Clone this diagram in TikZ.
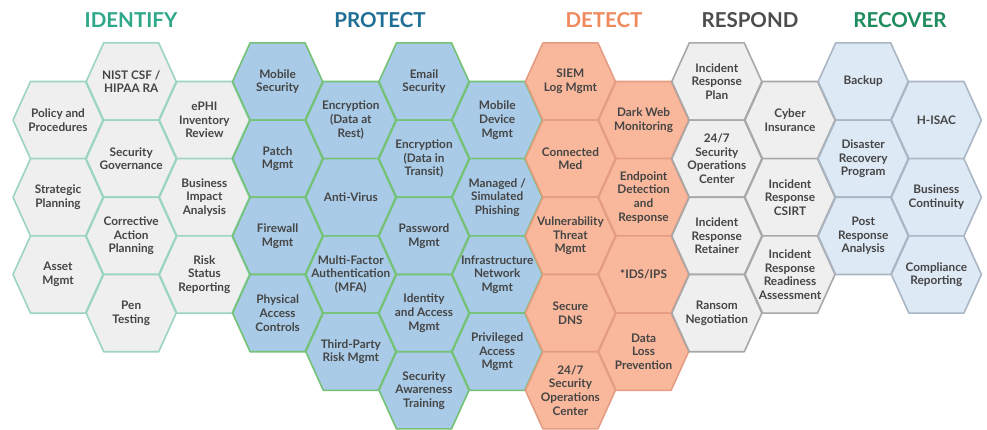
\documentclass[tikz,border=0pt]{standalone}
\usepackage{fontspec}
\setmainfont{Lato}
\definecolor{idfill}{HTML}{EFEFEF}
\definecolor{idline}{HTML}{9CD5BF}
\definecolor{prfill}{HTML}{A9CBE7}
\definecolor{prline}{HTML}{74C275}
\definecolor{defill}{HTML}{F9B89C}
\definecolor{deline}{HTML}{E49C82}
\definecolor{rsfill}{HTML}{EFEFEF}
\definecolor{rsline}{HTML}{A8A8A8}
\definecolor{rcfill}{HTML}{DDE9F5}
\definecolor{rcline}{HTML}{AAB6C3}
\definecolor{txtc}{HTML}{454545}
\definecolor{hid}{HTML}{2FA889}
\definecolor{hpr}{HTML}{1F6E96}
\definecolor{hde}{HTML}{F08A5D}
\definecolor{hrs}{HTML}{4D4D4D}
\definecolor{hrc}{HTML}{1E8C5E}
\tikzset{
  hexline/.style={line width=1.6pt, line join=round},
  idhex/.style={hexline, fill=idfill, draw=idline},
  prhex/.style={hexline, fill=prfill, draw=prline},
  dehex/.style={hexline, fill=defill, draw=deline},
  rshex/.style={hexline, fill=rsfill, draw=rsline},
  rchex/.style={hexline, fill=rcfill, draw=rcline},
  celltext/.style={text=txtc, font=\bfseries\fontsize{11.8}{13.6}\selectfont, align=center, inner sep=0pt},
  head/.style={font=\bfseries\fontsize{20.5}{24}\selectfont, inner sep=0pt},
}
\newcommand\hexcell[5]{%
  \begin{scope}[shift={(#2,#3)}]
    \path[#4] (-45,0) -- (-27.5,-38.6) -- (27.5,-38.6) -- (45,0) -- (27.5,38.6) -- (-27.5,38.6) -- cycle;
  \end{scope}
  \node[celltext] (#1) at (#2,#3) {#5};%
}
\begin{document}
\begin{tikzpicture}[x=1pt,y=-1pt]
\useasboundingbox (0,0) rectangle (987,430);
\fill[white] (0,0) rectangle (987,430);
% headers
\node[head, text=hid] (hidentify) at (131,20) {IDENTIFY};
\node[head, text=hpr] (hprotect) at (380,20) {PROTECT};
\node[head, text=hde] (hdetect) at (604,20) {DETECT};
\node[head, text=hrs] (hrespond) at (750,20) {RESPOND};
\node[head, text=hrc] (hrecover) at (900,20) {RECOVER};
% IDENTIFY
\hexcell{c0a}{58}{120.1}{idhex}{Policy and\\Procedures}
\hexcell{c0b}{58}{197.3}{idhex}{Strategic\\Planning}
\hexcell{c0c}{58}{274.5}{idhex}{Asset\\Mgmt}
\hexcell{c1a}{131.2}{81.5}{idhex}{NIST CSF /\\HIPAA RA}
\hexcell{c1b}{131.2}{158.7}{idhex}{Security\\Governance}
\hexcell{c1c}{131.2}{235.9}{idhex}{Corrective\\Action\\Planning}
\hexcell{c1d}{131.2}{313.1}{idhex}{Pen\\Testing}
\hexcell{c2a}{204.4}{120.1}{idhex}{ePHI\\Inventory\\Review}
\hexcell{c2b}{204.4}{197.3}{idhex}{Business\\Impact\\Analysis}
\hexcell{c2c}{204.4}{274.5}{idhex}{Risk\\Status\\Reporting}
% PROTECT
\hexcell{c3a}{277.6}{81.5}{prhex}{Mobile\\Security}
\hexcell{c3b}{277.6}{158.7}{prhex}{Patch\\Mgmt}
\hexcell{c3c}{277.6}{235.9}{prhex}{Firewall\\Mgmt}
\hexcell{c3d}{277.6}{313.1}{prhex}{Physical\\Access\\Controls}
\hexcell{c4a}{350.8}{120.1}{prhex}{Encryption\\(Data at\\Rest)}
\hexcell{c4b}{350.8}{197.3}{prhex}{Anti-Virus}
\hexcell{c4c}{350.8}{274.5}{prhex}{Multi-Factor\\Authentication\\(MFA)}
\hexcell{c4d}{350.8}{351.7}{prhex}{Third-Party\\Risk Mgmt}
\hexcell{c5a}{424}{81.5}{prhex}{Email\\Security}
\hexcell{c5b}{424}{158.7}{prhex}{Encryption\\(Data in\\Transit)}
\hexcell{c5c}{424}{235.9}{prhex}{Password\\Mgmt}
\hexcell{c5d}{424}{313.1}{prhex}{Identity\\and Access\\Mgmt}
\hexcell{c5e}{424}{390.3}{prhex}{Security\\Awareness\\Training}
\hexcell{c6a}{497.2}{120.1}{prhex}{Mobile\\Device\\Mgmt}
\hexcell{c6b}{497.2}{197.3}{prhex}{Managed /\\Simulated\\Phishing}
\hexcell{c6c}{497.2}{274.5}{prhex}{Infrastructure\\Network\\Mgmt}
\hexcell{c6d}{497.2}{351.7}{prhex}{Privileged\\Access\\Mgmt}
% DETECT
\hexcell{c7a}{570.4}{81.5}{dehex}{SIEM\\Log Mgmt}
\hexcell{c7b}{570.4}{158.7}{dehex}{Connected\\Med}
\hexcell{c7c}{570.4}{235.9}{dehex}{Vulnerability\\Threat\\Mgmt}
\hexcell{c7d}{570.4}{313.1}{dehex}{Secure\\DNS}
\hexcell{c7e}{570.4}{390.3}{dehex}{24/7\\Security\\Operations\\Center}
\hexcell{c8a}{643.6}{120.1}{dehex}{Dark Web\\Monitoring}
\hexcell{c8b}{643.6}{197.3}{dehex}{Endpoint\\Detection\\and\\Response}
\hexcell{c8c}{643.6}{274.5}{dehex}{*IDS/IPS}
\hexcell{c8d}{643.6}{351.7}{dehex}{Data\\Loss\\Prevention}
% RESPOND
\hexcell{c9a}{716.8}{81.5}{rshex}{Incident\\Response\\Plan}
\hexcell{c9b}{716.8}{158.7}{rshex}{24/7\\Security\\Operations\\Center}
\hexcell{c9c}{716.8}{235.9}{rshex}{Incident\\Response\\Retainer}
\hexcell{c9d}{716.8}{313.1}{rshex}{Ransom\\Negotiation}
\hexcell{c10a}{790}{120.1}{rshex}{Cyber\\Insurance}
\hexcell{c10b}{790}{197.3}{rshex}{Incident\\Response\\CSIRT}
\hexcell{c10c}{790}{274.5}{rshex}{Incident\\Response\\Readiness\\Assessment}
% RECOVER
\hexcell{c11a}{863.2}{81.5}{rchex}{Backup}
\hexcell{c11b}{863.2}{158.7}{rchex}{Disaster\\Recovery\\Program}
\hexcell{c11c}{863.2}{235.9}{rchex}{Post\\Response\\Analysis}
\hexcell{c12a}{936.4}{120.1}{rchex}{H-ISAC}
\hexcell{c12b}{936.4}{197.3}{rchex}{Business\\Continuity}
\hexcell{c12c}{936.4}{274.5}{rchex}{Compliance\\Reporting}
\end{tikzpicture}
\end{document}
